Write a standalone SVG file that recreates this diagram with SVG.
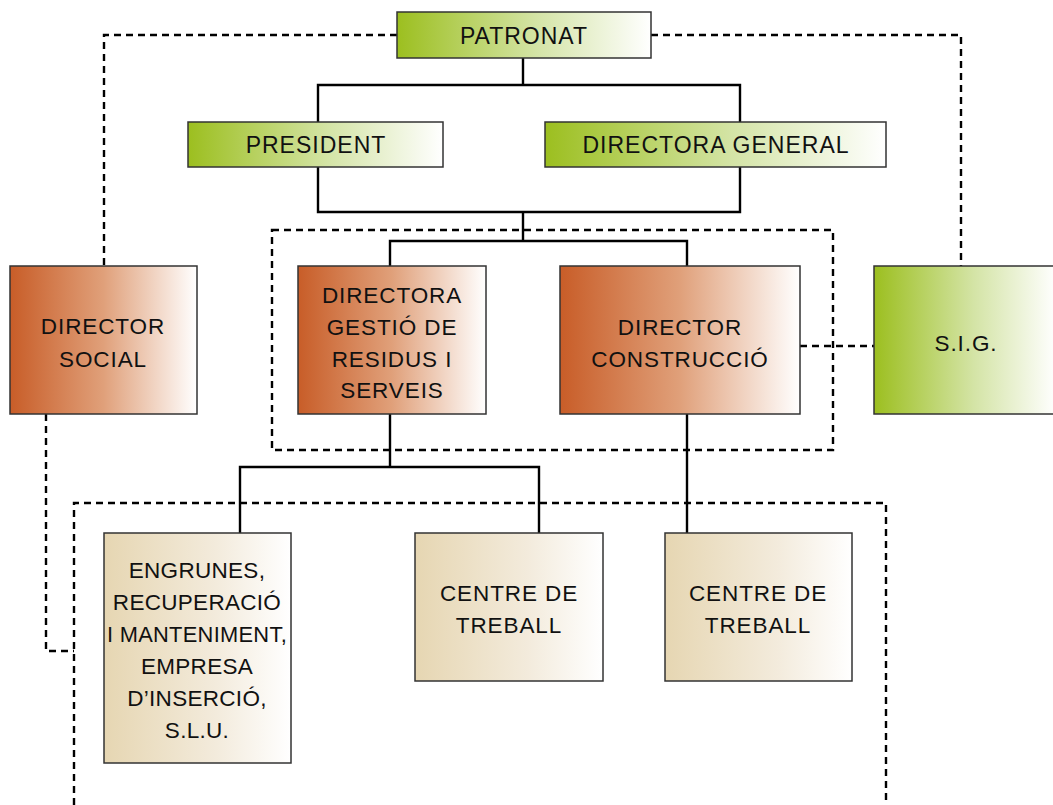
<svg xmlns="http://www.w3.org/2000/svg" width="1053" height="805" viewBox="0 0 1053 805">
<defs>
<linearGradient id="gGreen" x1="0" y1="0" x2="1" y2="0">
<stop offset="0" stop-color="#9cbf1f"/><stop offset="0.55" stop-color="#d4e4a6"/><stop offset="1" stop-color="#ffffff"/>
</linearGradient>
<linearGradient id="gOrange" x1="0" y1="0" x2="1" y2="0">
<stop offset="0" stop-color="#c85d28"/><stop offset="0.5" stop-color="#e0a07a"/><stop offset="1" stop-color="#ffffff"/>
</linearGradient>
<linearGradient id="gBeige" x1="0" y1="0" x2="1" y2="0">
<stop offset="0" stop-color="#e6d6b2"/><stop offset="0.6" stop-color="#f3ebdc"/><stop offset="1" stop-color="#ffffff"/>
</linearGradient>
</defs>
<style>
.box{stroke:#333;stroke-width:1.5}
.g{fill:url(#gGreen)}.o{fill:url(#gOrange)}.b{fill:url(#gBeige)}
text{font-family:"Liberation Sans",Arial,sans-serif;font-size:22.5px;fill:#111;text-anchor:middle;letter-spacing:0.9px}
.top{font-size:23px;letter-spacing:1px}
.tight{letter-spacing:0.3px}
.solid{fill:none;stroke:#000;stroke-width:2.4}
.dash{fill:none;stroke:#000;stroke-width:2.4;stroke-dasharray:7 5}
</style>
<rect width="1053" height="805" fill="#fff"/>
<g id="connectors">
<path class="dash" d="M397 35 H104 V266"/>
<path class="dash" d="M651 35 H961 V266"/>
<path class="dash" d="M800 346 H874"/>
<rect class="dash" x="272" y="230" width="561" height="220"/>
<path class="dash" d="M74 805 V503 H886 V805"/>
<path class="dash" d="M46 414 V651 H74"/>
<path class="solid" d="M523 58 V85 M318 122 V85 H740 V122"/>
<path class="solid" d="M318 167 V212 H740 V167 M523 212 V241 M390 266 V241 H687 V266"/>
<path class="solid" d="M390 414 V467 M240 533 V467 H539 V533"/>
<path class="solid" d="M687 414 V533"/>
</g>
<g id="patronat"><rect class="box g" x="397" y="12" width="254" height="46"/><text class="top" x="524" y="44">PATRONAT</text></g>
<g id="president"><rect class="box g" x="188" y="122" width="255" height="45"/><text class="top" x="316" y="153">PRESIDENT</text></g>
<g id="directora-general"><rect class="box g" x="545" y="122" width="341" height="45"/><text class="top" x="716" y="153">DIRECTORA GENERAL</text></g>
<g id="director-social"><rect class="box o" x="10" y="266" width="187" height="148"/><text x="103" y="334">DIRECTOR</text><text x="103" y="367">SOCIAL</text></g>
<g id="directora-gestio"><rect class="box o" x="298" y="266" width="188" height="148"/><text x="392" y="303">DIRECTORA</text><text x="392" y="335">GESTIÓ DE</text><text x="392" y="367">RESIDUS I</text><text x="392" y="398">SERVEIS</text></g>
<g id="director-construccio"><rect class="box o" x="560" y="266" width="240" height="148"/><text x="680" y="335">DIRECTOR</text><text x="680" y="367">CONSTRUCCIÓ</text></g>
<g id="sig"><rect class="box g" x="874" y="266" width="182" height="148"/><text x="966" y="351">S.I.G.</text></g>
<g id="engrunes"><rect class="box b" x="104" y="533" width="187" height="230"/>
<text class="tight" x="197" y="578">ENGRUNES,</text><text class="tight" x="197" y="610">RECUPERACIÓ</text><text class="tight" x="197" y="642" textLength="180" lengthAdjust="spacingAndGlyphs">I MANTENIMENT,</text><text class="tight" x="197" y="674">EMPRESA</text><text class="tight" x="197" y="706">D’INSERCIÓ,</text><text class="tight" x="197" y="738">S.L.U.</text></g>
<g id="centre1"><rect class="box b" x="415" y="533" width="188" height="148"/><text x="509" y="601">CENTRE DE</text><text x="509" y="633">TREBALL</text></g>
<g id="centre2"><rect class="box b" x="665" y="533" width="187" height="148"/><text x="758" y="601">CENTRE DE</text><text x="758" y="633">TREBALL</text></g>
</svg>
